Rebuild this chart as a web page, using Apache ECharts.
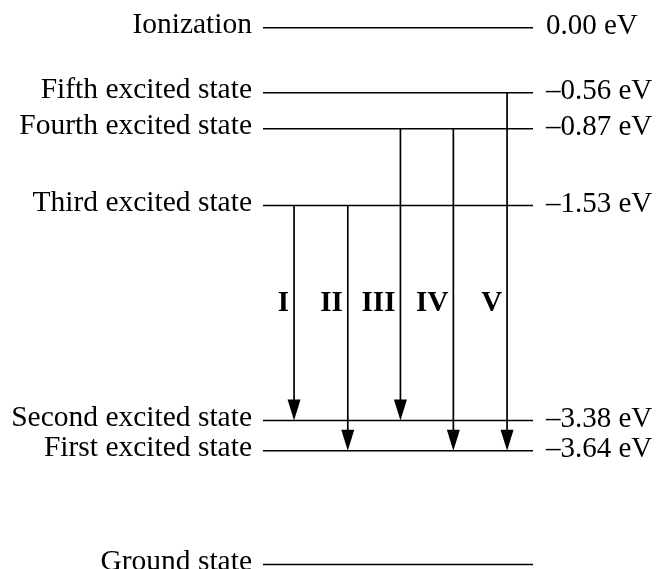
<!DOCTYPE html>
<html>
<head>
<meta charset="utf-8">
<script src="https://cdn.jsdelivr.net/npm/echarts@6/dist/echarts.min.js"></script>
<style>
html,body{margin:0;padding:0;background:#fff;}
#chart{width:657px;height:569px;}
</style>
</head>
<body>
<div id="chart"></div>
<script>
// Energy levels (eV)
const levelNames = ['Ionization', 'Fifth excited state', 'Fourth excited state', 'Third excited state', 'Second excited state', 'First excited state', 'Ground state'];
const levelEnergies = [0.00, -0.56, -0.87, -1.53, -3.38, -3.64, -4.62];
const levelValueLabels = ['0.00 eV', '\u20130.56 eV', '\u20130.87 eV', '\u20131.53 eV', '\u20133.38 eV', '\u20133.64 eV', ''];

// Transitions (downward arrows)
const transitionNames = ['I', 'II', 'III', 'IV', 'V'];
const transitionFrom = [-1.53, -1.53, -0.87, -0.87, -0.56];
const transitionTo = [-3.38, -3.64, -3.38, -3.64, -3.64];
const transitionX = [11.5, 31.4, 50.9, 70.5, 90.4];
const transitionLabelY = -2.37;

const FONT = '"Liberation Serif", "Times New Roman", serif';
const INK = '#000';

const levelData = levelEnergies.map((e, i) => [0, e, 100, i]);
const transData = transitionX.map((x, i) => [x, transitionFrom[i], transitionTo[i], i]);

const chart = echarts.init(document.getElementById('chart'), null, {renderer: 'canvas'});
chart.setOption({
  backgroundColor: '#fff',
  animation: false,
  grid: {left: 263, width: 270, top: 4.46, height: 563.6},
  xAxis: {type: 'value', min: 0, max: 100, show: false},
  yAxis: {type: 'value', min: -4.65, max: 0.2, show: false},
  series: [
    {
      type: 'custom',
      clip: false,
      silent: true,
      data: levelData,
      encode: {x: 0, y: 1},
      renderItem: function (params, api) {
        const i = api.value(3);
        const e = api.value(1);
        const p0 = api.coord([api.value(0), e]);
        const p1 = api.coord([api.value(2), e]);
        const children = [
          {type: 'line', shape: {x1: p0[0], y1: p0[1], x2: p1[0], y2: p1[1]},
           style: {stroke: INK, lineWidth: 1.6}},
          {type: 'text', x: p0[0] - 11, y: p0[1] - 2.5,
           style: {text: levelNames[i], font: '29.5px ' + FONT, fill: INK, align: 'right', verticalAlign: 'middle'}}
        ];
        if (levelValueLabels[i]) {
          children.push({type: 'text', x: p1[0] + 13, y: p0[1] - 1.5,
            style: {text: levelValueLabels[i], font: '29px ' + FONT, fill: INK, align: 'left', verticalAlign: 'middle'}});
        }
        return {type: 'group', children: children};
      }
    },
    {
      type: 'custom',
      clip: false,
      silent: true,
      data: transData,
      encode: {x: 0, y: [1, 2]},
      renderItem: function (params, api) {
        const i = api.value(3);
        const x = api.value(0);
        const a = api.coord([x, api.value(1)]);
        const b = api.coord([x, api.value(2)]);
        const lab = api.coord([x, transitionLabelY]);
        const hw = 6.5, hh = 21;
        return {type: 'group', children: [
          {type: 'line', shape: {x1: a[0], y1: a[1], x2: b[0], y2: b[1] - hh + 2},
           style: {stroke: INK, lineWidth: 1.7}},
          {type: 'polygon', shape: {points: [[b[0] - hw, b[1] - hh], [b[0] + hw, b[1] - hh], [b[0], b[1]]]},
           style: {fill: INK}},
          {type: 'text', x: lab[0] - 5, y: lab[1],
           style: {text: transitionNames[i], font: 'bold 29px ' + FONT, fill: INK, align: 'right', verticalAlign: 'middle'}}
        ]};
      }
    }
  ]
});
</script>
</body>
</html>
